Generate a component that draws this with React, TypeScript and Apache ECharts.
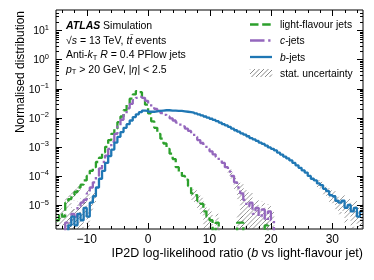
import React, { useEffect, useRef } from "react";
import * as echarts from "echarts";

// Histogram binning (data space)
const BIN_LOW = -15;
const BIN_WIDTH = 0.5;
const X_MIN = -15;
const X_MAX = 35;
const Y_MIN = 1.5e-6;
const Y_MAX = 50;

// light-flavour jets, bins centred at -14.75, -14.25, ... 34.75
const lightJets = [
  3e-6, 5e-6, 4e-6, 1.2e-5, 1.6e-5, 2.2e-5, 2.8e-5, 4e-5, 5e-5, 7e-5,
  1.0e-4, 1.5e-4, 2.0e-4, 3.0e-4, 4.2e-4, 6.5e-4, 1.0e-3, 1.7e-3, 2.8e-3, 4.2e-3,
  7e-3, 1.1e-2, 1.8e-2, 3.0e-2, 4.5e-2, 6.3e-2, 8.2e-2, 7.5e-2, 5.0e-2, 2.8e-2,
  1.4e-2, 7.5e-3, 4.5e-3, 2.8e-3, 1.9e-3, 1.3e-3, 8.5e-4, 5.8e-4, 3.8e-4, 2.0e-4,
  1.4e-4, 1.0e-4, 7.5e-5, 4.5e-5, 2.5e-5, 2.2e-5, 1.4e-5, 1.1e-5, 6e-6, 4e-6,
  3e-6, 0, 2.5e-6, 0, 0, 0, 0, 0, 0, 2.5e-6,
  2.5e-6, 0, 0, 0, 0, 0, 0, 0, 2e-6, 0,
  0, 0, 0, 0, 0, 0, 0, 0, 0, 0,
  0, 0, 0, 0, 0, 0, 0, 0, 0, 0,
  0, 0, 0, 0, 0, 0, 0, 0, 0, 0,
];

const cJets = [
  0, 0, 0, 2.5e-6, 3e-6, 5e-6, 4e-6, 9e-6, 1.2e-5, 1.5e-5,
  2.5e-5, 4e-5, 6e-5, 1.0e-4, 1.8e-4, 3.0e-4, 5e-4, 8.5e-4, 1.5e-3, 2.8e-3,
  5e-3, 8.5e-3, 1.4e-2, 2.1e-2, 3.0e-2, 4.0e-2, 4.8e-2, 5.2e-2, 4.8e-2, 3.8e-2,
  3.0e-2, 2.4e-2, 2.0e-2, 1.7e-2, 1.45e-2, 1.25e-2, 1.1e-2, 9.5e-3, 8e-3, 6.8e-3,
  5.8e-3, 5e-3, 4.2e-3, 3.5e-3, 2.8e-3, 2.2e-3, 1.7e-3, 1.35e-3, 1.1e-3, 8.5e-4,
  7e-4, 5.5e-4, 4.5e-4, 3.5e-4, 2.8e-4, 2.0e-4, 1.4e-4, 1.0e-4, 6e-5, 4e-5,
  2.5e-5, 1.5e-5, 9e-6, 1.2e-5, 5e-6, 8e-6, 4e-6, 7e-6, 3e-6, 6e-6,
  3e-6, 0, 0, 0, 0, 0, 0, 0, 0, 0,
  0, 0, 0, 0, 0, 0, 0, 0, 0, 0,
  0, 0, 0, 0, 0, 0, 0, 0, 0, 0,
];

const bJets = [
  0, 0, 0, 0, 2e-6, 4e-6, 2e-6, 5e-6, 3e-6, 8e-6,
  4e-6, 1.2e-5, 2e-5, 4e-5, 8e-5, 1.5e-4, 2.8e-4, 4.8e-4, 8e-4, 1.4e-3,
  2.2e-3, 3.2e-3, 4.5e-3, 6e-3, 8e-3, 1.05e-2, 1.3e-2, 1.55e-2, 1.75e-2, 1.7e-2,
  1.6e-2, 1.6e-2, 1.65e-2, 1.7e-2, 1.75e-2, 1.8e-2, 1.8e-2, 1.75e-2, 1.75e-2, 1.7e-2,
  1.7e-2, 1.65e-2, 1.6e-2, 1.55e-2, 1.5e-2, 1.4e-2, 1.3e-2, 1.2e-2, 1.1e-2, 1.0e-2,
  9.2e-3, 8.4e-3, 7.6e-3, 6.8e-3, 6e-3, 5.4e-3, 4.8e-3, 4.2e-3, 3.7e-3, 3.3e-3,
  2.9e-3, 2.6e-3, 2.3e-3, 2.0e-3, 1.8e-3, 1.6e-3, 1.4e-3, 1.25e-3, 1.1e-3, 9.5e-4,
  8.5e-4, 7.5e-4, 6.3e-4, 5.4e-4, 4.6e-4, 4.0e-4, 3.4e-4, 2.8e-4, 2.3e-4, 1.9e-4,
  1.55e-4, 1.3e-4, 1.0e-4, 8e-5, 7e-5, 5.5e-5, 4.8e-5, 3.6e-5, 3.0e-5, 2.2e-5,
  2.0e-5, 1.4e-5, 1.2e-5, 1.4e-5, 8e-6, 1.0e-5, 6e-6, 8e-6, 4e-6, 6e-6,
];

// statistical uncertainty: [bin centre, relative uncertainty]
const lightUnc: [number, number][] = [
  [-14.75, 0.8], [-14.25, 0.6], [-13.75, 0.7], [-13.25, 0.45], [-12.75, 0.4], [-12.25, 0.35],
  [-11.75, 0.3], [-11.25, 0.3], [7.25, 0.4], [7.75, 0.45], [8.25, 0.5], [8.75, 0.6],
  [9.25, 0.8], [9.75, 1], [10.25, 1], [11.25, 1], [14.75, 1], [15.25, 1], [19.25, 1],
];
const cUnc: [number, number][] = [
  [-13.25, 1], [-12.75, 0.9], [-12.25, 0.7], [-11.75, 0.8], [-11.25, 0.5], [-10.75, 0.45],
  [-10.25, 0.4], [-9.75, 0.35], [13.25, 0.25], [13.75, 0.3], [14.25, 0.4], [14.75, 0.6],
  [15.25, 1.2], [15.75, 1.5], [16.25, 2], [16.75, 1.2], [17.25, 1.5], [17.75, 1],
  [18.25, 1], [18.75, 0.9], [19.25, 1], [19.75, 0.8], [20.25, 1],
];
const bUnc: [number, number][] = [
  [-12.75, 1], [-12.25, 0.8], [-11.75, 1], [-11.25, 0.7], [-10.75, 0.9], [-10.25, 0.6],
  [-9.75, 0.8], [-9.25, 0.5], [-8.75, 0.4], [27.75, 0.3], [28.25, 0.3], [28.75, 0.35],
  [29.25, 0.4], [29.75, 0.45], [30.25, 0.5], [30.75, 0.55], [31.25, 0.6], [31.75, 0.55],
  [32.25, 0.7], [32.75, 0.6], [33.25, 0.8], [33.75, 0.7], [34.25, 1], [34.75, 0.8],
];

const xMajorTicks = [-10, 0, 10, 20, 30];
const xMinorTicks = [-14, -12, -8, -6, -4, -2, 2, 4, 6, 8, 12, 14, 16, 18, 22, 24, 26, 28, 32, 34];
const yMajorExps = [-5, -4, -3, -2, -1, 0, 1];
const yMinorMantissas = [2, 3, 4, 5, 6, 7, 8, 9];

const seriesNames = ["light-flavour jets", "c-jets", "b-jets", "stat. uncertainty"];

const FONT = "Liberation Sans";
const GREEN = "#2ca02c";
const PURPLE = "#9467bd";
const BLUE = "#1f77b4";
const LW = 2.3;
const DASH = [8.5, 3.7];
const DASHDOT = [14.5, 3.7, 2.3, 3.7];
const HATCH = "#555";

function stepData(values: number[]) {
  const pts = values.map((v, i) => [BIN_LOW + i * BIN_WIDTH, v > 0 ? v : 1e-9]);
  const last = values[values.length - 1];
  pts.push([BIN_LOW + values.length * BIN_WIDTH, last > 0 ? last : 1e-9]);
  return pts;
}

function bands(values: number[], unc: [number, number][]) {
  const out: number[][] = [];
  unc.forEach(([c, rel]) => {
    const i = Math.round((c - BIN_LOW) / BIN_WIDTH - 0.5);
    const v = values[i];
    if (!(v > 0)) return;
    out.push([c - BIN_WIDTH / 2, c + BIN_WIDTH / 2, rel >= 1 ? Y_MIN * 0.3 : v * (1 - rel), v * (1 + rel)]);
  });
  return out;
}

function hatchLines(x0: number, y0: number, x1: number, y1: number, s: number, stroke: string, lw: number) {
  const children: any[] = [];
  for (let c = Math.ceil((x0 + y0) / s) * s; c <= x1 + y1; c += s) {
    const xa = Math.max(x0, c - y1);
    const xb = Math.min(x1, c - y0);
    if (xb > xa) {
      children.push({
        type: "line",
        shape: { x1: xa, y1: c - xa, x2: xb, y2: c - xb },
        style: { stroke, lineWidth: lw },
      });
    }
  }
  return children;
}

const minus = (v: number) => (v < 0 ? "\u2212" + Math.abs(v) : String(v));

export default function App() {
  const ref = useRef<HTMLDivElement>(null);
  useEffect(() => {
    const chart = echarts.init(ref.current!, undefined, { renderer: "svg" });
    const hatchBoxes = [
      ...bands(lightJets, lightUnc),
      ...bands(cJets, cUnc),
      ...bands(bJets, bUnc),
    ];

    const yMinor: number[] = [];
    for (let e = -7; e <= 2; e++) {
      yMinorMantissas.forEach((m) => {
        const v = m * Math.pow(10, e);
        if (v > Y_MIN && v < Y_MAX) yMinor.push(v);
      });
    }
    const yMajor = yMajorExps.map((e) => Math.pow(10, e));

    const annRich = {
      n: { fontSize: 10.5, fontFamily: FONT, color: "#000", lineHeight: 14 },
      i: { fontSize: 10.5, fontFamily: FONT, color: "#000", fontStyle: "italic", lineHeight: 14 },
      a: { fontSize: 10.5, fontFamily: FONT, color: "#000", fontStyle: "italic", fontWeight: "bold", lineHeight: 14 },
      sub: { fontSize: 7.5, fontFamily: FONT, color: "#000", lineHeight: 7, verticalAlign: "bottom" },
    };

    const annText = (y: number, text: string) => ({
      type: "text",
      x: 66,
      y,
      style: { text, rich: annRich, verticalAlign: "middle", align: "left" },
    });

    const legRich = {
      n: { fontSize: 10.3, fontFamily: FONT, color: "#000" },
      i: { fontSize: 10.3, fontFamily: FONT, color: "#000", fontStyle: "italic" },
    };
    const legText = (y: number, text: string) => ({
      type: "text",
      x: 280,
      y,
      style: { text, rich: legRich, verticalAlign: "middle", align: "left" },
    });

    const option: any = {
      animation: false,
      textStyle: { fontFamily: FONT },
      grid: {
        left: 56,
        top: 10,
        width: 307,
        height: 219,
        show: true,
        borderColor: "#000",
        borderWidth: 1,
        backgroundColor: "transparent",
      },
      xAxis: {
        type: "value",
        min: X_MIN,
        max: X_MAX,
        splitNumber: 5,
        axisLine: { show: false },
        axisTick: { show: false },
        splitLine: { show: false },
        axisLabel: {
          showMinLabel: false,
          showMaxLabel: false,
          margin: 4,
          fontSize: 12,
          color: "#000",
          fontFamily: FONT,
          formatter: (v: number) => (xMajorTicks.indexOf(v) >= 0 ? minus(v) : ""),
        },
        name: "IP2D log-likelihood ratio ({it|b} vs light-flavour jet)",
        nameLocation: "end",
        nameGap: 0,
        nameTextStyle: {
          fontSize: 12.5,
          fontFamily: FONT,
          color: "#000",
          align: "right",
          verticalAlign: "top",
          padding: [17, 0, 0, 0],
          rich: { it: { fontSize: 12.5, fontFamily: FONT, color: "#000", fontStyle: "italic" } },
        },
      },
      yAxis: {
        type: "log",
        logBase: 10,
        min: Y_MIN,
        max: Y_MAX,
        axisLine: { show: false },
        axisTick: { show: false },
        minorTick: { show: false },
        splitLine: { show: false },
        axisLabel: {
          showMinLabel: false,
          showMaxLabel: false,
          margin: 7,
          color: "#000",
          formatter: (v: number) => {
            const e = Math.round(Math.log10(v));
            if (yMajorExps.indexOf(e) < 0) return "";
            return "{b|10}{s|" + minus(e) + "}";
          },
          rich: {
            b: { fontSize: 10.5, fontFamily: FONT, color: "#000", lineHeight: 14 },
            s: { fontSize: 7.5, fontFamily: FONT, color: "#000", lineHeight: 7, verticalAlign: "top" },
          },
        },
      },
      series: [
        {
          name: seriesNames[3],
          type: "custom",
          silent: true,
          z: 1,
          data: hatchBoxes.map((b) => [b[0], b[3]]),
          renderItem: (params: any, api: any) => {
            const b = hatchBoxes[params.dataIndex];
            const p0 = api.coord([b[0], b[3]]);
            const p1 = api.coord([b[1], b[2]]);
            const cs = params.coordSys;
            const x0 = Math.max(p0[0], cs.x);
            const x1 = Math.min(p1[0], cs.x + cs.width);
            const y0 = Math.max(p0[1], cs.y);
            const y1 = Math.min(p1[1], cs.y + cs.height);
            if (x1 <= x0 || y1 <= y0) return null;
            return { type: "group", children: hatchLines(x0, y0, x1, y1, 4.5, HATCH, 0.6) };
          },
        },
        {
          name: seriesNames[0],
          type: "line",
          step: "end",
          showSymbol: false,
          z: 3,
          data: stepData(lightJets),
          lineStyle: { color: GREEN, width: LW, type: DASH },
          itemStyle: { color: GREEN },
        },
        {
          name: seriesNames[1],
          type: "line",
          step: "end",
          showSymbol: false,
          z: 4,
          data: stepData(cJets),
          lineStyle: { color: PURPLE, width: LW, type: DASHDOT },
          itemStyle: { color: PURPLE },
        },
        {
          name: seriesNames[2],
          type: "line",
          step: "end",
          showSymbol: false,
          z: 5,
          data: stepData(bJets),
          lineStyle: { color: BLUE, width: LW },
          itemStyle: { color: BLUE },
        },
        {
          name: "ticks",
          type: "custom",
          silent: true,
          z: 10,
          data: [[0, 1]],
          renderItem: (params: any, api: any) => {
            const cs = params.coordSys;
            const L = cs.x, R = cs.x + cs.width, T = cs.y, B = cs.y + cs.height;
            const ch: any[] = [];
            const st = { stroke: "#000", lineWidth: 1 };
            const addX = (v: number, len: number) => {
              const px = Math.round(api.coord([v, 1])[0]) + 0.5;
              ch.push({ type: "line", shape: { x1: px, y1: B, x2: px, y2: B - len }, style: st });
              ch.push({ type: "line", shape: { x1: px, y1: T, x2: px, y2: T + len }, style: st });
            };
            const addY = (v: number, len: number) => {
              const py = Math.round(api.coord([0, v])[1]) + 0.5;
              ch.push({ type: "line", shape: { x1: L, y1: py, x2: L + len, y2: py }, style: st });
              ch.push({ type: "line", shape: { x1: R, y1: py, x2: R - len, y2: py }, style: st });
            };
            xMajorTicks.forEach((v) => addX(v, 6));
            xMinorTicks.forEach((v) => addX(v, 3));
            yMajor.forEach((v) => addY(v, 6));
            yMinor.forEach((v) => addY(v, 3));
            return { type: "group", children: ch };
          },
        },
      ],
      graphic: [
        {
          type: "text",
          x: 20,
          y: 11,
          rotation: Math.PI / 2,
          style: {
            text: "Normalised distribution",
            fontSize: 12,
            fontFamily: FONT,
            fill: "#000",
            align: "right",
            verticalAlign: "middle",
          },
        },
        annText(25, "{a|ATLAS}{n| Simulation}"),
        annText(39.5, "{n|\u221a}{i|s}{n| = 13 TeV, }{i|t\u0074\u0304}{n| events}"),
        annText(54, "{n|Anti-}{i|k}{sub|T}{n| }{i|R}{n| = 0.4 PFlow jets}"),
        annText(68.5, "{i|p}{sub|T}{n| > 20 GeV, |}{i|\u03b7}{n|| < 2.5}"),
        {
          type: "line",
          shape: { x1: 250, y1: 24.5, x2: 272, y2: 24.5 },
          style: { stroke: GREEN, lineWidth: LW, lineDash: DASH },
        },
        {
          type: "line",
          shape: { x1: 250, y1: 40.5, x2: 272, y2: 40.5 },
          style: { stroke: PURPLE, lineWidth: LW, lineDash: DASHDOT },
        },
        {
          type: "line",
          shape: { x1: 250, y1: 57, x2: 272, y2: 57 },
          style: { stroke: BLUE, lineWidth: LW },
        },
        {
          type: "group",
          children: hatchLines(250, 69, 272, 77, 4.5, HATCH, 0.7),
        },
        legText(24.5, "{n|light-flavour jets}"),
        legText(40.5, "{i|c}{n|-jets}"),
        legText(57, "{i|b}{n|-jets}"),
        legText(73, "{n|stat. uncertainty}"),
      ],
    };
    chart.setOption(option);
    return () => chart.dispose();
  }, []);
  return (
    <div
      ref={ref}
      style={{ position: "fixed", left: 0, top: 0, width: 374, height: 280 }}
    />
  );
}
